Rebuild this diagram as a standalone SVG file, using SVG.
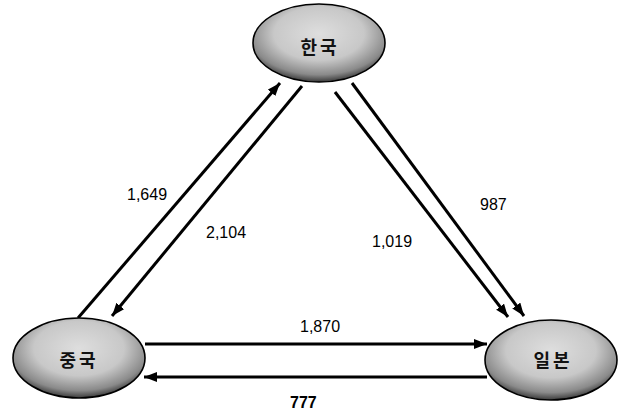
<svg xmlns="http://www.w3.org/2000/svg" width="624" height="414" viewBox="0 0 624 414">
<style>
.node ellipse{stroke:#000;stroke-width:1.6;fill:url(#g)}
.node text{font-family:"Noto Sans CJK KR","Noto Sans",sans-serif;font-weight:bold;font-size:18px;fill:#111;text-anchor:middle;letter-spacing:3px}
.edges line{stroke:#000;stroke-width:3;marker-end:url(#ah)}
.lbl{font-family:"Liberation Sans",Arial,sans-serif;font-size:16px;fill:#000}
</style>
<defs>
<radialGradient id="g" cx="0.5" cy="0.38" r="0.62">
<stop offset="0" stop-color="#dedede"/>
<stop offset="0.55" stop-color="#c8c8c8"/>
<stop offset="0.85" stop-color="#8a8a8a"/>
<stop offset="1" stop-color="#3a3a3a"/>
</radialGradient>
<marker id="ah" markerUnits="userSpaceOnUse" markerWidth="14" markerHeight="12" refX="13" refY="5" orient="auto">
<path d="M0,0 L13,5 L0,10 Z" fill="#000"/>
</marker>
</defs>
<g class="edges" id="connectors">
<line x1="78" y1="318" x2="280" y2="83"/>
<line x1="302" y1="86" x2="112" y2="316"/>
<line x1="335" y1="92" x2="508" y2="317"/>
<line x1="352" y1="83" x2="524" y2="316"/>
<line x1="145" y1="344" x2="487" y2="344"/>
<line x1="487" y1="377" x2="144" y2="377"/>
</g>
<g id="edge-labels">
<text class="lbl" x="127" y="200">1,649</text>
<text class="lbl" x="206" y="238">2,104</text>
<text class="lbl" x="372" y="247">1,019</text>
<text class="lbl" x="480" y="210">987</text>
<text class="lbl" x="300" y="332">1,870</text>
<text class="lbl" x="290" y="408" font-weight="bold">777</text>
</g>
<g class="node" id="korea">
<ellipse cx="319" cy="43" rx="66" ry="39"/>
<text x="320" y="54">한국</text>
</g>
<g class="node" id="china">
<ellipse cx="79" cy="358" rx="66" ry="40"/>
<text x="79" y="367">중국</text>
</g>
<g class="node" id="japan">
<ellipse cx="551" cy="360" rx="66" ry="40"/>
<text x="553" y="367">일본</text>
</g>
</svg>
